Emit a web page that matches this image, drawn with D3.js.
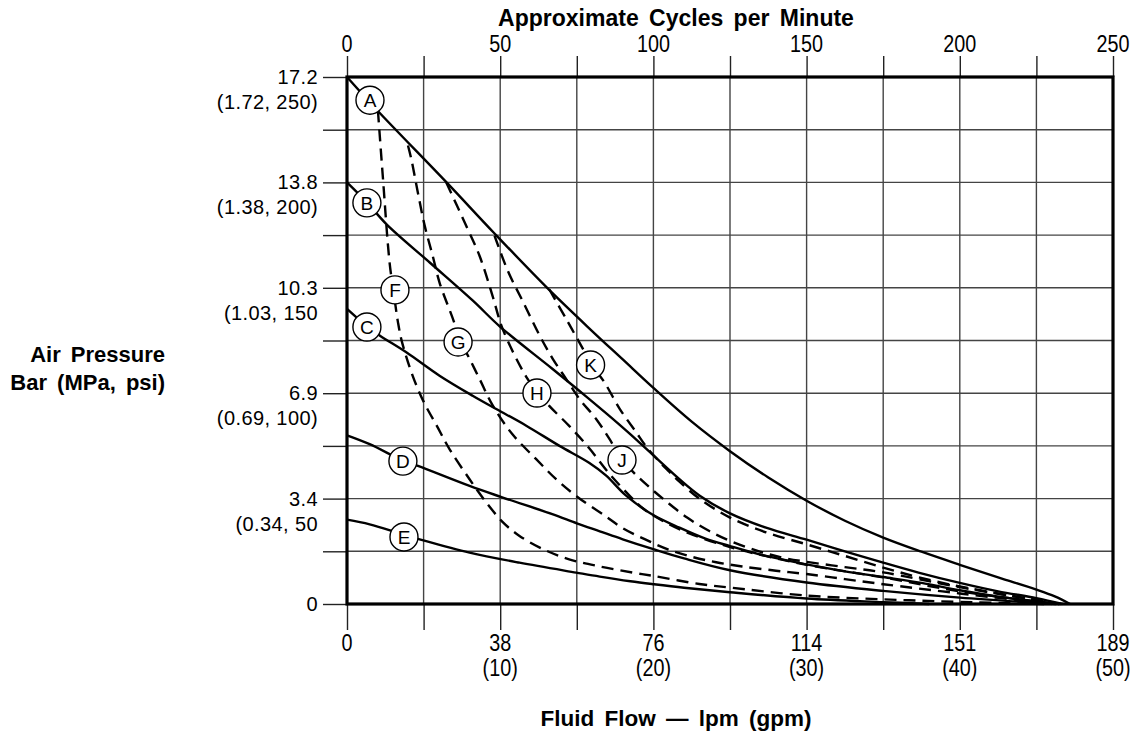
<!DOCTYPE html>
<html>
<head>
<meta charset="utf-8">
<script src="https://cdn.jsdelivr.net/npm/d3@7"></script>
<style>
body{margin:0;background:#fff;}
text{font-family:"Liberation Sans",Arial,sans-serif;fill:#000;}
</style>
</head>
<body>
<svg id="chart" width="1140" height="736"></svg>
<script>
// axis values
var gpmTicks = [0, 10, 20, 30, 40, 50];
var lpmLabels = ["0", "38", "76", "114", "151", "189"];
var gpmLabels = ["", "(10)", "(20)", "(30)", "(40)", "(50)"];
var cycleTicks = [0, 50, 100, 150, 200, 250];
var psiTicks = [0, 50, 100, 150, 200, 250];
var barLabels = ["0", "3.4", "6.9", "10.3", "13.8", "17.2"];
var mpaLabels = ["", "(0.34, 50", "(0.69, 100)", "(1.03, 150", "(1.38, 200)", "(1.72, 250)"];

// curves, [gpm, psi]
var curveA = [[0,250],[2,234],[6.5,200],[9.6,176],[13.2,149],[16,129.5],[18,116],[20,102.5],[22.5,86.5],[25,72.5],[27.5,60],[30,49],[32.5,39.5],[35,31.5],[37.5,24.8],[40,18.6],[42.5,12.6],[45,6.8],[46.2,3.6],[47.2,0]];
var curveB = [[0,200],[1.3,190.5],[2.6,180],[5.4,162],[8.2,144],[10,131.5],[13.4,111.6],[15.6,98.5],[17.8,85],[18.65,79.5],[20,70.5],[21.7,59.2],[23,51.5],[25,43],[27.35,36.2],[30,30.5],[32.5,25],[35,19.6],[37.3,14.9],[40,10],[42.5,6],[45,2.8],[46.7,0]];
var curveC = [[0,140],[1.26,132],[2.13,127.4],[3.87,119.4],[6.04,108.3],[8.2,98.8],[9.74,92.5],[11.7,84.6],[13.87,75],[15.8,67],[16.9,61],[18.2,51.5],[19.96,42.3],[21.7,36.2],[23.4,31],[25,27.5],[27.35,22.8],[30,18.8],[32.5,15.5],[35,12.8],[37.5,10],[40,6.5],[43,3],[46.5,0]];
var curveD = [[0,80],[1.48,75.8],[3.65,68],[4.63,65.5],[8,56],[10.17,50.5],[13.4,42.6],[15,38.3],[16.5,34.5],[18,30.7],[20,26],[22,21.6],[25,16],[30,10.2],[35,6.2],[40,3],[46.3,0]];
var curveE = [[0,40],[1.48,37.8],[3.65,33],[4.74,30.7],[8,24.4],[11.26,19.6],[14.96,14.9],[16.5,13],[18.5,10.8],[20,9.4],[22,7.7],[25,5.6],[30,2.6],[35,0.9],[38,0]];
var curveF = [[2.02,234],[2.35,201.6],[2.78,162],[3.1,145],[3.33,133.5],[3.6,124],[4.3,108],[5.0,96],[5.9,84],[6.7,73.4],[8,59.2],[9.1,48.1],[10.2,38.6],[11.26,32.3],[12.8,26],[14.5,21.2],[16.5,17.8],[18.65,14.9],[20,13.3],[23,9.5],[25,7.8],[30,4],[35,2.2],[40,1],[45.5,0]];
var curveG = [[3.98,217.5],[4.2,211],[4.63,195],[5.07,179.5],[5.6,165],[6.04,152.5],[7.0,133.5],[7.37,124.5],[7.78,119.4],[8.65,106.8],[9.52,94.1],[10.8,80.5],[12.35,68.7],[13.65,59.2],[15,51],[16.8,42],[18,36],[19.5,30.5],[21,25.8],[22.6,22.2],[24.1,19.8],[25.8,17.8],[28,15.8],[30,14.2],[32.5,11.8],[35,9.4],[40,5],[46,0]];
var curveH = [[6.48,200],[7.78,179.4],[8.65,165.2],[9.5,146.2],[10.17,130.3],[11.7,107.8],[12.5,100],[13.2,94],[14.5,84.5],[15.8,74],[17.1,62],[18.5,51],[19.2,46],[20,42],[22,34.5],[25,27],[27.5,22.5],[30,18.6],[35,12.6],[40,6],[46.3,0]];
var curveJ = [[9.63,174.7],[10.5,158],[11.5,143.2],[12.57,127.4],[13.43,116.3],[14.3,106.8],[15.17,97.3],[16.26,87.8],[17.13,78.3],[17.95,68.5],[18.9,61],[19.8,55],[20.8,48.9],[22.2,41],[23.65,34.6],[25.2,29.3],[26.9,25],[28.4,22],[30,20],[32.5,17.5],[35,15],[40,8],[46.5,0]];
var curveK = [[13.2,149.3],[14.3,135.3],[15.4,121],[15.93,113.9],[16.8,105.2],[17.8,92.6],[18.87,81.5],[19.5,75],[20.2,69],[21,63],[21.7,58],[23,50],[25,41],[27.35,34],[30,28.3],[32.5,22.8],[35,17.3],[37.3,12.7],[40,8.3],[46.6,0]];

var solidCurves = [curveA, curveB, curveC, curveD, curveE];
var dashedCurves = [curveF, curveG, curveH, curveJ, curveK];

// circle labels
var labelNames = ["A", "B", "C", "D", "E", "F", "G", "H", "J", "K"];
var labelGpm = [1.5, 1.3, 1.3, 3.65, 3.72, 3.13, 7.25, 12.4, 17.95, 15.9];
var labelPsi = [239, 190.3, 131.4, 67.8, 31.8, 149, 124.3, 100.1, 68.3, 113.4];

var svg = d3.select("#chart");
var x = d3.scaleLinear().domain([0, 50]).range([347, 1113]);
var xCyc = d3.scaleLinear().domain([0, 250]).range([347, 1113]);
var y = d3.scaleLinear().domain([0, 250]).range([604, 77]);

// grid
svg.append("g").selectAll("line").data(d3.range(5, 50, 5)).enter().append("line")
    .attr("x1", function(d){return x(d);}).attr("x2", function(d){return x(d);})
    .attr("y1", y(0)).attr("y2", y(250))
    .attr("stroke", "#444").attr("stroke-width", 1.4);
svg.append("g").selectAll("line").data(d3.range(25, 250, 25)).enter().append("line")
    .attr("y1", function(d){return y(d);}).attr("y2", function(d){return y(d);})
    .attr("x1", x(0)).attr("x2", x(50))
    .attr("stroke", "#444").attr("stroke-width", 1.4);

// tick marks outside the frame
var tickStyle = function(g){
    g.select(".domain").remove();
    g.selectAll(".tick line").attr("stroke", "#222").attr("stroke-width", 1.4);
    g.selectAll(".tick text").remove();
};
svg.append("g").attr("transform", "translate(0," + y(0) + ")")
    .call(d3.axisBottom(x).tickValues(d3.range(0, 51, 5)).tickSize(26)).call(tickStyle);
svg.append("g").attr("transform", "translate(0," + y(250) + ")")
    .call(d3.axisTop(x).tickValues(d3.range(0, 51, 5)).tickSize(21)).call(tickStyle);
svg.append("g").attr("transform", "translate(" + x(0) + ",0)")
    .call(d3.axisLeft(y).tickValues(d3.range(0, 251, 25)).tickSize(24)).call(tickStyle);

// curves
var line = d3.line()
    .x(function(d){return x(d[0]);})
    .y(function(d){return y(d[1]);})
    .curve(d3.curveCatmullRom.alpha(0.5));

svg.append("g").selectAll("path").data(dashedCurves).enter().append("path")
    .attr("d", line).attr("fill", "none").attr("stroke", "#000")
    .attr("stroke-width", 2.4).attr("stroke-dasharray", "12,7");
svg.append("g").selectAll("path").data(solidCurves).enter().append("path")
    .attr("d", line).attr("fill", "none").attr("stroke", "#000")
    .attr("stroke-width", 2.4);

// frame
svg.append("rect").attr("x", x(0)).attr("y", y(250))
    .attr("width", x(50) - x(0)).attr("height", y(0) - y(250))
    .attr("fill", "none").attr("stroke", "#000").attr("stroke-width", 3.2);

// circle labels
var lab = svg.append("g").selectAll("g").data(labelNames).enter().append("g")
    .attr("transform", function(d, i){return "translate(" + x(labelGpm[i]) + "," + y(labelPsi[i]) + ")";});
lab.append("circle").attr("r", 14).attr("fill", "#fff").attr("stroke", "#000").attr("stroke-width", 1.4);
lab.append("text").attr("text-anchor", "middle").attr("y", 7)
    .style("font-size", "19px").text(function(d){return d;});

// left labels
var leftG = svg.append("g");
psiTicks.forEach(function(v, i){
    leftG.append("text").attr("x", 318).attr("y", y(v) + 7).attr("text-anchor", "end")
        .style("font-size", "20px").style("letter-spacing", "0.4px").text(barLabels[i]);
    if(mpaLabels[i]){
        leftG.append("text").attr("x", 318).attr("y", y(v) + 32).attr("text-anchor", "end")
            .style("font-size", "20px").style("letter-spacing", "0.4px").text(mpaLabels[i]);
    }
});

// top and bottom numbers are a narrow face in the original: squeeze them a bit
var narrow = function(sel, px, py){
    sel.attr("text-anchor", "middle").style("font-size", "23px")
        .attr("transform", "translate(" + px + "," + py + ") scale(0.86,1)");
};

var topG = svg.append("g");
cycleTicks.forEach(function(v){
    topG.append("text").call(narrow, xCyc(v), 52).text(v);
});

var bottomG = svg.append("g");
gpmTicks.forEach(function(v, i){
    bottomG.append("text").call(narrow, x(v), 651).text(lpmLabels[i]);
    if(gpmLabels[i]){
        bottomG.append("text").call(narrow, x(v), 676).text(gpmLabels[i]);
    }
});

// titles
svg.append("text").attr("x", 676).attr("y", 26).attr("text-anchor", "middle")
    .style("font-size", "23px").style("font-weight", "bold").style("word-spacing", "4px")
    .text("Approximate Cycles per Minute");
svg.append("text").attr("x", 676).attr("y", 726).attr("text-anchor", "middle")
    .style("font-size", "22.5px").style("font-weight", "bold").style("word-spacing", "4px")
    .text("Fluid Flow \u2014 lpm (gpm)");
svg.append("text").attr("x", 165).attr("y", 362).attr("text-anchor", "end")
    .style("font-size", "22px").style("font-weight", "bold").style("word-spacing", "4px")
    .text("Air Pressure");
svg.append("text").attr("x", 165).attr("y", 390).attr("text-anchor", "end")
    .style("font-size", "22px").style("font-weight", "bold").style("word-spacing", "4px")
    .text("Bar (MPa, psi)");
</script>
</body>
</html>
